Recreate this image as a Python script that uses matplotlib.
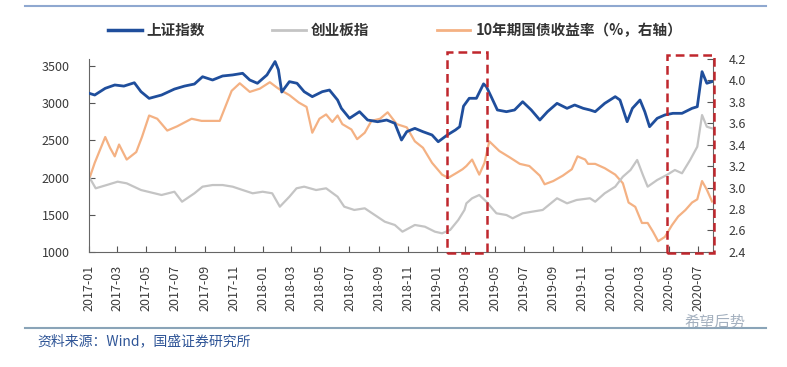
import pandas as pd
import matplotlib.pyplot as plt
import matplotlib.dates as mdates
from matplotlib.lines import Line2D
from matplotlib.patches import Rectangle

plt.rcParams['font.family'] = ['Noto Sans CJK SC', 'DejaVu Sans']

# 上证指数 (left axis)
sh_dates = ['2017-01-03', '2017-01-13', '2017-02-04', '2017-02-24', '2017-03-15', '2017-04-06',
            '2017-04-20', '2017-05-07', '2017-06-02', '2017-06-29', '2017-07-20', '2017-08-10',
            '2017-08-27', '2017-09-17', '2017-10-08', '2017-10-29', '2017-11-19', '2017-12-04',
            '2017-12-20', '2018-01-09', '2018-01-26', '2018-02-02', '2018-02-09', '2018-02-25',
            '2018-03-13', '2018-03-28', '2018-04-14', '2018-05-05', '2018-05-20', '2018-06-06',
            '2018-06-14', '2018-07-01', '2018-07-22', '2018-08-08', '2018-08-29', '2018-09-17',
            '2018-10-04', '2018-10-18', '2018-10-29', '2018-11-15', '2018-12-02', '2018-12-21',
            '2019-01-03', '2019-01-22', '2019-02-08', '2019-02-17', '2019-02-25', '2019-03-09',
            '2019-03-24', '2019-04-08', '2019-04-14', '2019-04-24', '2019-05-07', '2019-05-26',
            '2019-06-12', '2019-06-29', '2019-07-17', '2019-08-04', '2019-08-20', '2019-09-09',
            '2019-09-30', '2019-10-16', '2019-11-03', '2019-11-17', '2019-11-28', '2019-12-18',
            '2020-01-09', '2020-01-19', '2020-02-03', '2020-02-14', '2020-03-01', '2020-03-11',
            '2020-03-21', '2020-04-06', '2020-04-22', '2020-05-09', '2020-05-28', '2020-06-18',
            '2020-06-29', '2020-07-09', '2020-07-19', '2020-07-30']
sh_index = [3130, 3110, 3200, 3245, 3230, 3275,
            3155, 3065, 3110, 3190, 3230, 3258,
            3356, 3312, 3366, 3380, 3402, 3312,
            3268, 3380, 3560, 3450, 3150, 3290,
            3268, 3155, 3088, 3155, 3177, 3043,
            2931, 2797, 2886, 2774, 2751, 2774,
            2730, 2505, 2617, 2662, 2617, 2573,
            2482, 2573, 2640, 2684, 2960, 3066,
            3066, 3260, 3222, 3088, 2909, 2886,
            2909, 3020, 2909, 2774, 2886, 2998,
            2931, 2976, 2931, 2909, 2886, 2998,
            3088, 3043, 2751, 2931, 3043, 2886,
            2684, 2797, 2842, 2864, 2864, 2931,
            2953, 3424, 3268, 3290]

# 创业板指 (left axis)
cy_dates = ['2017-01-03', '2017-01-15', '2017-02-07', '2017-03-02', '2017-03-21', '2017-04-20',
            '2017-06-02', '2017-06-29', '2017-07-15', '2017-08-10', '2017-08-27', '2017-09-17',
            '2017-10-08', '2017-10-29', '2017-11-19', '2017-12-10', '2017-12-31', '2018-01-20',
            '2018-02-05', '2018-02-25', '2018-03-12', '2018-03-28', '2018-04-22', '2018-05-13',
            '2018-06-06', '2018-06-20', '2018-07-11', '2018-08-02', '2018-08-23', '2018-09-13',
            '2018-10-04', '2018-10-20', '2018-11-15', '2018-12-06', '2018-12-27', '2019-01-11',
            '2019-01-28', '2019-02-14', '2019-02-27', '2019-03-03', '2019-03-15', '2019-03-30',
            '2019-04-14', '2019-05-05', '2019-05-26', '2019-06-08', '2019-06-29', '2019-07-19',
            '2019-08-10', '2019-09-09', '2019-09-30', '2019-10-20', '2019-11-17', '2019-11-28',
            '2019-12-18', '2020-01-09', '2020-01-25', '2020-02-10', '2020-02-24', '2020-03-07',
            '2020-03-17', '2020-04-06', '2020-04-26', '2020-05-13', '2020-05-28', '2020-06-14',
            '2020-06-29', '2020-07-09', '2020-07-19', '2020-07-30']
cy_index = [1990, 1856, 1900, 1945, 1923, 1833,
            1766, 1810, 1676, 1789, 1878, 1900,
            1900, 1878, 1833, 1789, 1810, 1789,
            1609, 1743, 1856, 1878, 1833, 1856,
            1743, 1609, 1565, 1587, 1497, 1407,
            1363, 1273, 1363, 1340, 1273, 1251,
            1296, 1430, 1565, 1654, 1722, 1766,
            1676, 1520, 1497, 1453, 1520, 1542,
            1565, 1722, 1654, 1699, 1722, 1676,
            1789, 1878, 2012, 2102, 2237, 2035,
            1878, 1968, 2035, 2102, 2058, 2237,
            2415, 2841, 2684, 2662]

# 10年期国债收益率 (right axis, %)
bond_dates = ['2017-01-03', '2017-01-13', '2017-02-04', '2017-02-14', '2017-02-24', '2017-03-05',
              '2017-03-21', '2017-04-10', '2017-04-22', '2017-05-07', '2017-05-24', '2017-06-14',
              '2017-07-05', '2017-08-04', '2017-08-25', '2017-09-17', '2017-10-02', '2017-10-27',
              '2017-11-13', '2017-12-04', '2017-12-25', '2018-01-15', '2018-01-30', '2018-02-09',
              '2018-02-25', '2018-03-17', '2018-04-02', '2018-04-14', '2018-04-29', '2018-05-13',
              '2018-05-26', '2018-06-06', '2018-06-16', '2018-07-05', '2018-07-17', '2018-08-02',
              '2018-08-16', '2018-09-03', '2018-09-19', '2018-10-08', '2018-10-29', '2018-11-15',
              '2018-12-02', '2018-12-21', '2019-01-11', '2019-01-24', '2019-02-12', '2019-02-23',
              '2019-03-03', '2019-03-15', '2019-03-30', '2019-04-10', '2019-04-20', '2019-05-11',
              '2019-06-02', '2019-06-23', '2019-07-13', '2019-08-04', '2019-08-14', '2019-09-01',
              '2019-09-21', '2019-10-10', '2019-10-22', '2019-11-07', '2019-11-13', '2019-11-28',
              '2019-12-18', '2020-01-09', '2020-01-25', '2020-02-06', '2020-02-20', '2020-03-05',
              '2020-03-17', '2020-03-28', '2020-04-08', '2020-04-22', '2020-05-07', '2020-05-20',
              '2020-06-04', '2020-06-18', '2020-06-29', '2020-07-09', '2020-07-19', '2020-07-30']
bond_yield = [3.10, 3.23, 3.47, 3.37, 3.29, 3.40,
              3.26, 3.33, 3.47, 3.67, 3.64, 3.53,
              3.57, 3.64, 3.62, 3.62, 3.62, 3.90,
              3.97, 3.89, 3.92, 3.98, 3.93, 3.90,
              3.86, 3.79, 3.75, 3.51, 3.64, 3.68,
              3.61, 3.67, 3.59, 3.54, 3.45, 3.51,
              3.62, 3.64, 3.70, 3.59, 3.56, 3.43,
              3.37, 3.23, 3.12, 3.09, 3.14, 3.17,
              3.20, 3.26, 3.12, 3.23, 3.43, 3.34,
              3.28, 3.22, 3.20, 3.11, 3.03, 3.06,
              3.11, 3.17, 3.29, 3.26, 3.22, 3.22,
              3.18, 3.12, 3.04, 2.86, 2.82, 2.67,
              2.67, 2.59, 2.50, 2.54, 2.65, 2.73,
              2.79, 2.86, 2.89, 3.06, 2.98, 2.87]

# highlighted windows (dashed boxes)
box_starts = ['2019-01-22', '2020-04-26']
box_ends = ['2019-04-15', '2020-08-03']
box_tops = [3690, 3650]

sh_x = pd.to_datetime(sh_dates)
cy_x = pd.to_datetime(cy_dates)
bond_x = pd.to_datetime(bond_dates)

fig = plt.figure(figsize=(7.87, 3.67), dpi=100)
ax = fig.add_axes([0.1131, 0.3134, 0.7929, 0.5270])
ax2 = ax.twinx()

blue = '#1F4E9C'
grey = '#C4C4C4'
orange = '#F4B183'

ax.plot(cy_x, cy_index, color=grey, lw=1.6, zorder=2)
ax.plot(sh_x, sh_index, color=blue, lw=2.0, zorder=4)
ax2.plot(bond_x, bond_yield, color=orange, lw=1.6, zorder=3)
ax.set_zorder(ax2.get_zorder() + 1)
ax.patch.set_visible(False)

ax.set_xlim(pd.Timestamp('2017-01-01'), pd.Timestamp('2020-08-01'))
ax.set_ylim(1000, 3600)
ax.set_yticks([1000, 1500, 2000, 2500, 3000, 3500])
ax2.set_ylim(2.4, 4.2)
ax2.set_yticks([2.4, 2.6, 2.8, 3.0, 3.2, 3.4, 3.6, 3.8, 4.0, 4.2])
ax2.yaxis.set_major_formatter(plt.FormatStrFormatter('%.1f'))

ax.xaxis.set_major_locator(mdates.MonthLocator(bymonth=[1, 3, 5, 7, 9, 11]))
ax.xaxis.set_major_formatter(mdates.DateFormatter('%Y-%m'))

tick_col = '#3a3a3a'
for a in (ax, ax2):
    a.spines['top'].set_visible(False)
    a.tick_params(direction='in', length=4, width=0.8, colors='#555555',
                  labelcolor=tick_col, labelsize=9)
ax.tick_params(axis='y', pad=14)
ax.tick_params(axis='x', pad=9)
ax2.tick_params(axis='y', pad=11)
ax.spines['right'].set_visible(False)
ax2.spines['left'].set_visible(False)
ax2.spines['bottom'].set_visible(False)
for s in ['left', 'bottom']:
    ax.spines[s].set_color('#666666')
ax2.spines['right'].set_color('#666666')
plt.setp(ax.get_xticklabels(), rotation=90)

# dashed highlight boxes
for b0, b1, top in zip(box_starts, box_ends, box_tops):
    x0 = mdates.date2num(pd.Timestamp(b0))
    x1 = mdates.date2num(pd.Timestamp(b1))
    rect = Rectangle((x0, 985), x1 - x0, top - 985, fill=False, edgecolor='#C0272D',
                     lw=1.8, ls=(0, (3.5, 2)), clip_on=False, zorder=6)
    ax.add_patch(rect)

handles = [Line2D([], [], color=blue, lw=2.5),
           Line2D([], [], color=grey, lw=2.0),
           Line2D([], [], color=orange, lw=2.0)]
labels = ['上证指数', '创业板指', '10年期国债收益率（%，右轴）']
fig.legend(handles, labels, loc='center', bbox_to_anchor=(0.502, 0.918), ncol=3,
           frameon=False, handlelength=2.3, handletextpad=0.35, columnspacing=4.6,
           prop={'size': 10.5, 'weight': 'bold'}, labelcolor='#333333')

# frame lines and source note
fig.add_artist(Line2D([25 / 787, 766 / 787], [1 - 6 / 367, 1 - 6 / 367],
                      color='#8FA8D0', lw=1.5))
fig.add_artist(Line2D([25 / 787, 766 / 787], [1 - 327.5 / 367, 1 - 327.5 / 367],
                      color='#8AA4B8', lw=1.5))
fig.text(37 / 787, 1 - 341 / 367, '资料来源：Wind，国盛证券研究所', fontsize=10,
         style='italic', color='#2F5597', va='center', ha='left')
fig.text(715 / 787, 1 - 322 / 367, '希望后势', fontsize=11, color='#9AA8B8',
         va='center', ha='center', style='italic', alpha=0.9)

fig.savefig('out.png', dpi=100)
